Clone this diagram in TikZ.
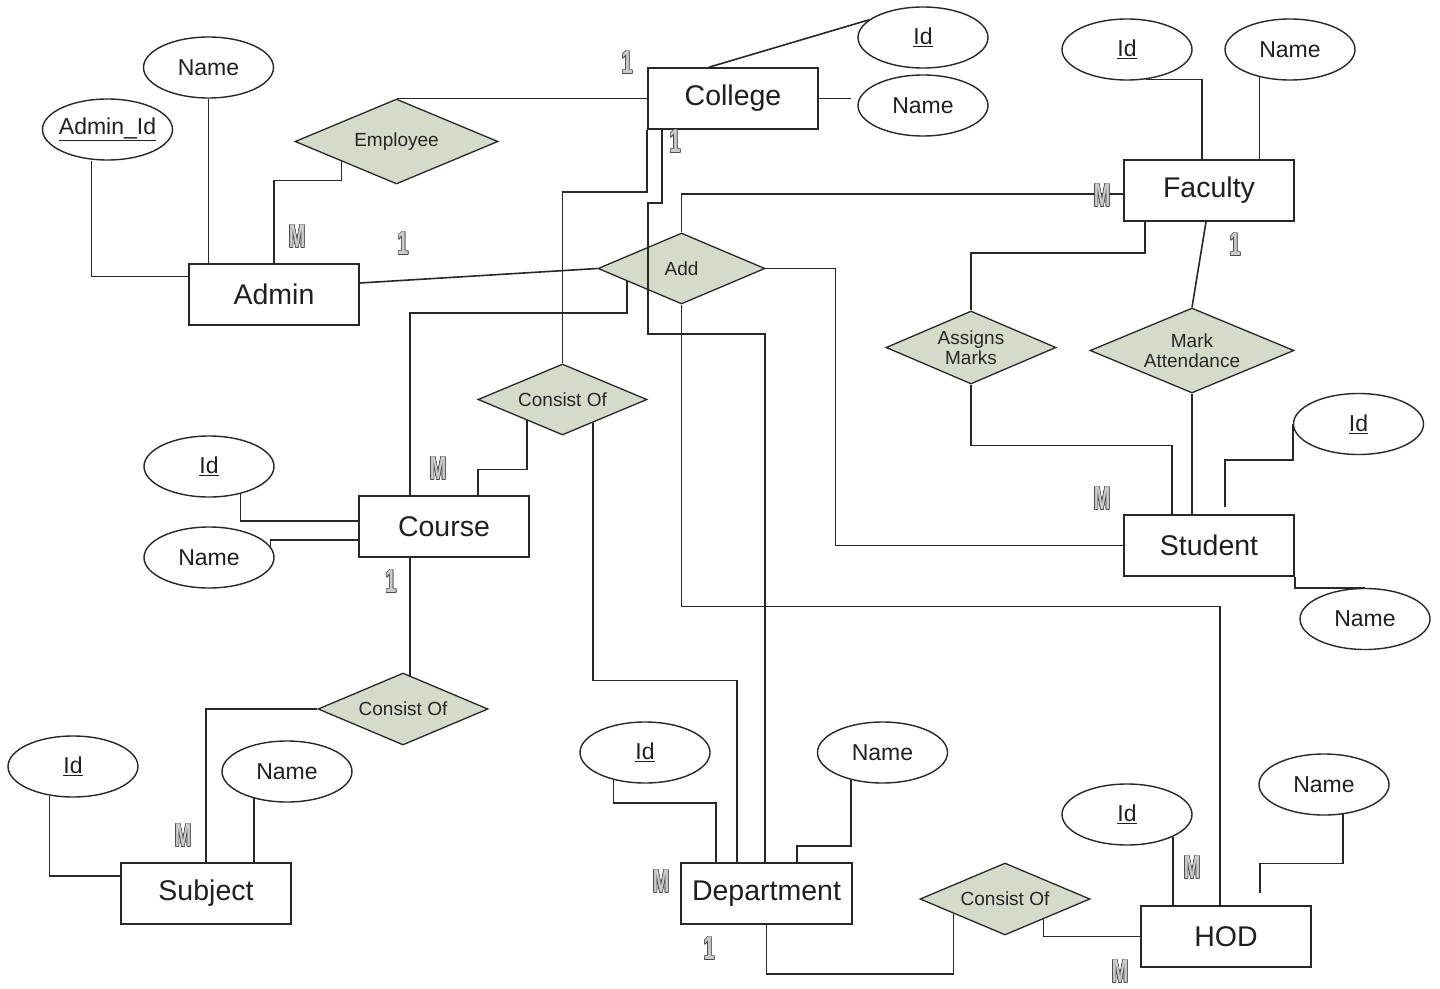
\documentclass[tikz,border=0pt]{standalone}
\usepackage{fontspec}
\setmainfont{Liberation Sans}
\usepackage{graphicx}
\usepackage{contour}
\usetikzlibrary{shapes.geometric,calc}
\contourlength{0.9pt}
\definecolor{relfill}{RGB}{214,218,200}
\definecolor{ink}{RGB}{40,40,40}
% hollow-looking cardinality marks
\newcommand{\cardtext}[1]{\scalebox{0.6}[1]{\color{black!20}\contour{black!70}{\bfseries #1}}}
\tikzset{
  entity/.style={draw=ink, line width=1.6pt, minimum width=170pt, minimum height=61pt,
    inner sep=0pt, font=\fontsize{28.5}{31}\selectfont, text=black!88},
  attr/.style={ellipse, draw=ink, line width=1.4pt, minimum width=130pt, minimum height=61pt,
    inner sep=0pt, font=\fontsize{23}{25}\selectfont, text=black!88},
  rel/.style={diamond, aspect=2.35, draw=ink, fill=relfill, line width=1.3pt, inner sep=0pt,
    font=\fontsize{19}{20}\selectfont, align=center, text=black!85},
  conn/.style={draw=ink, line width=1.6pt},
  card/.style={inner sep=0pt, font=\fontsize{33}{35}\selectfont}
}
\begin{document}
\begin{tikzpicture}[x=1pt,y=-1pt]
\fill[white] (0,0) rectangle (1440,988);
\useasboundingbox (0,0) rectangle (1440,988);

% ---------- entities ----------
\node[entity] (college) at (733,98.5) {College};
\node[entity] (admin) at (274,294.5) {Admin};
\node[entity] (faculty) at (1209,190.5) {Faculty};
\node[entity] (course) at (444,526.5) {Course};
\node[entity] (student) at (1209,545.5) {Student};
\node[entity] (subject) at (206,893.5) {Subject};
\node[entity, minimum width=171pt] (dept) at (766.5,893.5) {Department};
\node[entity] (hod) at (1226,936.5) {HOD};

% ---------- relationships ----------
\node[rel, minimum width=203pt, minimum height=85pt, aspect=2.39] (emp) at (396.5,141.5) {Employee};
\node[rel, minimum width=167pt, minimum height=71pt] (add) at (681.5,268.5) {Add};
\node[rel, minimum width=169pt, minimum height=71pt] (co1) at (562.5,399.5) {Consist Of};
\node[rel, minimum width=170pt, minimum height=73pt, aspect=2.33] (am) at (971,347.5) {Assigns\\Marks};
\node[rel, minimum width=204pt, minimum height=85pt, aspect=2.4] (ma) at (1192,350.5) {Mark\\Attendance};
\node[rel, minimum width=170pt, minimum height=72pt] (co2) at (403,709) {Consist Of};
\node[rel, minimum width=170pt, minimum height=72pt] (co3) at (1005,899) {Consist Of};

% ---------- attributes ----------
\node[attr] (anm) at (208.5,67.5) {Name};
\node[attr, inner xsep=-4pt] (aid) at (107.5,129.5) {\underline{Admin\_Id}};
\node[attr] (cid) at (923,37.5) {\underline{Id}};
\node[attr] (cnm) at (923,105.5) {Name};
\node[attr] (fid) at (1127,49.5) {\underline{Id}};
\node[attr] (fnm) at (1290,49.5) {Name};
\node[attr] (crsid) at (209,466.5) {\underline{Id}};
\node[attr] (crsnm) at (209,557.5) {Name};
\node[attr] (stid) at (1358.5,424) {\underline{Id}};
\node[attr] (stnm) at (1365,619) {Name};
\node[attr] (sbid) at (73,766.5) {\underline{Id}};
\node[attr] (sbnm) at (287,771.5) {Name};
\node[attr] (did) at (645,752.5) {\underline{Id}};
\node[attr] (dnm) at (882.5,752.5) {Name};
\node[attr] (hid) at (1127,814.5) {\underline{Id}};
\node[attr] (hnm) at (1324,784.5) {Name};

% ---------- connectors ----------
% Admin
\draw[conn] ([xshift=-16pt]aid.south) |- ([yshift=18pt]admin.west);
\draw[conn] (anm.south) -- (anm.south |- admin.north);
\draw[conn] ($(emp.west)!0.46!(emp.south)$) -- ++(0,19) -| (admin.north);
\draw[conn] (emp.north) -- (emp.north -| college.west);
\draw[conn] ([yshift=11.5pt]admin.east) -- (add.west);
% College
\draw[conn] ([xshift=-24pt]college.north) -- (cid.162);
\draw[conn] (college.east) -- ([xshift=-6pt]college.east -| cnm.west);
\draw[conn] (college.south west) -- ++(0,62) -| (co1.north);
\draw[conn] ([xshift=-71pt]college.south) -- ++(0,73) -- ++(-14,0) -- ++(0,131) -| ([xshift=-1.5pt]dept.north);
% Add
\draw[conn] (add.north) |- ([yshift=-3.5pt]faculty.west);
\draw[conn] (add.east) -- ++(70,0) |- (student.west);
\draw[conn] ($(add.west)!0.35!(add.south)$) -- ++(0,32) -| ([xshift=-34pt]course.north);
\draw[conn] (add.south) -- ++(0,302) -| ([xshift=-6pt]hod.north);
% Course
\draw[conn] ($(co1.west)!0.58!(co1.south)$) -- ++(0,49) -| ([xshift=34pt]course.north);
\draw[conn] ($(co1.south)!0.36!(co1.east)$) -- ++(0,258) -| ([xshift=-29.5pt]dept.north);
\draw[conn] (crsid.319) |- ([yshift=5.5pt]course.west);
\draw[conn] (crsnm.10) |- ([yshift=-13.5pt]course.west);
\draw[conn] ([xshift=-34pt]course.south) -- ++(0,119);
% Subject
\draw[conn] (co2.west) -| (subject.north);
\draw[conn] (sbid.231) |- ([yshift=17.5pt]subject.west);
\draw[conn] (sbnm.219) -- (sbnm.219 |- subject.north);
% Department
\draw[conn] (did.221) -- ++(0,23) -| ([xshift=-50.5pt]dept.north);
\draw[conn] (dnm.221) -- ++(0,66) -| ([xshift=30.5pt]dept.north);
\draw[conn] (dept.south) -- ++(0,49) -| ($(co3.west)!0.4!(co3.south)$);
% HOD
\draw[conn] ($(co3.south)!0.45!(co3.east)$) |- (hod.west);
\draw[conn] (hid.334) -- (hid.334 |- hod.north);
\draw[conn] (hnm.302) -- ++(0,49) -| ([xshift=34pt,yshift=12pt]hod.north);
% Faculty
\draw[conn] (fid.302) -| ([xshift=-7pt]faculty.north);
\draw[conn] (fnm.222) -- (fnm.222 |- faculty.north);
\draw[conn] ([xshift=-64pt]faculty.south) -- ++(0,31) -| (am.north);
\draw[conn] ([xshift=-3pt]faculty.south) -- (ma.north);
% Student
\draw[conn] (am.south) -- ++(0,61) -| ([xshift=-37pt]student.north);
\draw[conn] (ma.south) -- (ma.south |- student.north);
\draw[conn] (stid.west) -- ++(0,36) -| ([xshift=16pt,yshift=7pt]student.north);
\draw[conn] (student.south east) |- (stnm.north);

% ---------- cardinalities ----------
\node[card] (k1) at (627,63) {\cardtext{1}};
\node[card] (k2) at (675,142) {\cardtext{1}};
\node[card] (k3) at (297,237) {\cardtext{M}};
\node[card] (k4) at (403,244) {\cardtext{1}};
\node[card] (k5) at (1102,196) {\cardtext{M}};
\node[card] (k6) at (1235,245) {\cardtext{1}};
\node[card] (k7) at (438,469) {\cardtext{M}};
\node[card] (k8) at (391,582) {\cardtext{1}};
\node[card] (k9) at (1102,499) {\cardtext{M}};
\node[card] (k10) at (183,836) {\cardtext{M}};
\node[card] (k11) at (661,882) {\cardtext{M}};
\node[card] (k12) at (709,949) {\cardtext{1}};
\node[card] (k13) at (1192,868) {\cardtext{M}};
\node[card] (k14) at (1120,972) {\cardtext{M}};
\end{tikzpicture}
\end{document}
